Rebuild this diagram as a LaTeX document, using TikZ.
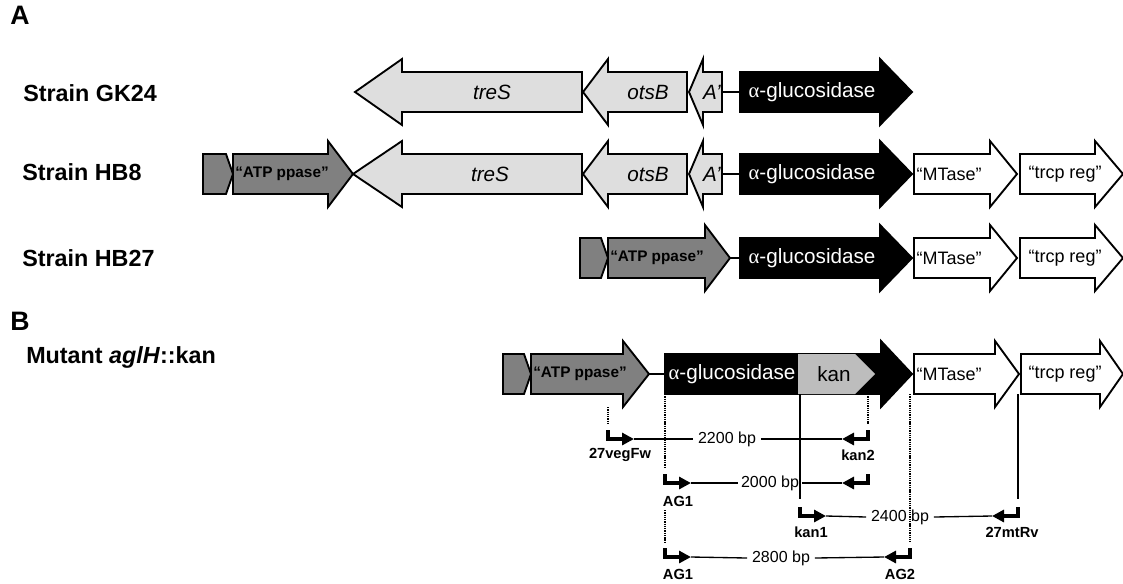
\documentclass[tikz,border=0pt]{standalone}
\usepackage{fontspec}
\setmainfont{Liberation Sans}
\newfontfamily\greekserif{Liberation Serif}
\usepackage{tikz}
\usetikzlibrary{arrows.meta}
\usepackage{xcolor}

\definecolor{lightgene}{gray}{0.87}
\definecolor{atpgray}{gray}{0.5}
\definecolor{kangray}{gray}{0.74}

% gene arrows: [style]{left}{head base}{tip}{row}
\newcommand{\fwdgene}[5][]{%
  \filldraw[#1] (#2,#5-20) -- (#3,#5-20) -- (#3,#5-33) -- (#4,#5) -- (#3,#5+33) -- (#3,#5+20) -- (#2,#5+20) -- cycle;}
% [style]{tip}{head base}{right}{row}
\newcommand{\revgene}[5][]{%
  \filldraw[#1] (#4,#5-20) -- (#3,#5-20) -- (#3,#5-33) -- (#2,#5) -- (#3,#5+33) -- (#3,#5+20) -- (#4,#5+20) -- cycle;}
% [style]{left}{tip}{row}
\newcommand{\stubgene}[4][]{%
  \filldraw[#1] (#2,#4-20) -- (#3-7,#4-20) -- (#3,#4) -- (#3-7,#4+20) -- (#2,#4+20) -- cycle;}

\tikzset{
  gene/.style={line width=1.4pt, draw=black},
  pale/.style={gene, fill=lightgene},
  atp/.style={gene, fill=atpgray},
  glu/.style={gene, fill=black},
  blank/.style={gene, fill=white},
  kanbox/.style={fill=kangray, draw=none},
  genetxt/.style={font=\fontsize{15.5}{18}\selectfont\itshape},
  glutxt/.style={text=white, inner sep=0pt, font=\fontsize{15.5}{18}\selectfont},
  atptxt/.style={inner sep=0pt, font=\fontsize{11.5}{14}\selectfont\bfseries},
  plaintxt/.style={inner sep=0pt, font=\fontsize{13.5}{16}\selectfont},
  rowlbl/.style={anchor=west, inner sep=0pt, font=\fontsize{17.5}{21}\selectfont\bfseries},
  panel/.style={anchor=west, inner sep=0pt, font=\fontsize{20}{24}\selectfont\bfseries},
  primer/.style={line width=2.6pt, -{Triangle[length=9pt,width=9pt]}},
  ruler/.style={line width=1pt},
  probe/.style={line width=1.7pt, dash pattern=on 1pt off 0.7pt},
  probesolid/.style={line width=1pt},
  bplbl/.style={inner sep=3.5pt, font=\fontsize{12}{14}\selectfont},
  primerlbl/.style={inner sep=0pt, font=\fontsize{11}{13}\selectfont\bfseries}
}

\begin{document}
\begin{tikzpicture}[x=0.75pt,y=-0.75pt]
  \useasboundingbox[fill=white] (0,0) rectangle (1123,583);

  % panel A
  \node[panel] (panelA) at (10,15) {A};
  \node[rowlbl] (gk24) at (23,93) {Strain GK24};
  \node[rowlbl] (hb8) at (22,172) {Strain HB8};
  \node[rowlbl] (hb27) at (22,258) {Strain HB27};

  % GK24
  \revgene[pale]{355}{402}{582}{92}
  \revgene[pale]{583}{608}{687}{92}
  \revgene[pale]{689}{703}{722}{92}
  \draw[gene] (722,92) -- (740,92);
  \fwdgene[glu]{740}{880}{912}{92}
  \node[genetxt] (treSa) at (492,92) {treS};
  \node[genetxt] (otsBa) at (648,92) {otsB};
  \node[genetxt,inner sep=0pt] (Aa) at (712,92) {A’};
  \node[glutxt] (glua) at (812,92) {{\greekserif α}-glucosidase};

  % HB8
  \stubgene[atp]{203}{233}{174}
  \fwdgene[atp]{233}{328}{353}{174}
  \revgene[pale]{353}{402}{582}{174}
  \revgene[pale]{583}{608}{687}{174}
  \revgene[pale]{689}{703}{722}{174}
  \draw[gene] (722,174) -- (740,174);
  \fwdgene[glu]{740}{880}{912}{174}
  \fwdgene[blank]{914}{990}{1017}{174}
  \fwdgene[blank]{1020}{1095}{1123}{174}
  \node[atptxt] (atpb) at (282,174) {“ATP ppase”};
  \node[genetxt] (treSb) at (490,174) {treS};
  \node[genetxt] (otsBb) at (648,174) {otsB};
  \node[genetxt,inner sep=0pt] (Ab) at (712,174) {A’};
  \node[glutxt] (glub) at (812,174) {{\greekserif α}-glucosidase};
  \node[plaintxt] (mtb) at (949,174) {“MTase”};
  \node[plaintxt] (trb) at (1065,174) {“trcp reg”};

  % HB27
  \stubgene[atp]{580}{608}{258}
  \fwdgene[atp]{608}{705}{730}{258}
  \draw[gene] (730,258) -- (740,258);
  \fwdgene[glu]{740}{880}{912}{258}
  \fwdgene[blank]{914}{990}{1017}{258}
  \fwdgene[blank]{1020}{1095}{1123}{258}
  \node[atptxt] (atpc) at (657,258) {“ATP ppase”};
  \node[glutxt] (gluc) at (812,258) {{\greekserif α}-glucosidase};
  \node[plaintxt] (mtc) at (949,258) {“MTase”};
  \node[plaintxt] (trc) at (1065,258) {“trcp reg”};

  % panel B
  \node[panel] (panelB) at (10,321) {B};
  \node[rowlbl] (mutant) at (26,357) {Mutant \textit{aglH}::kan};

  \stubgene[atp]{503}{531}{374}
  \fwdgene[atp]{531}{623}{649}{374}
  \draw[gene] (649,374) -- (665,374);
  \fwdgene[glu]{665}{881}{912}{374}
  \fill[kanbox] (798,354) -- (855,354) -- (875,374) -- (855,394) -- (798,394) -- cycle;
  \fwdgene[blank]{914}{995}{1019}{374}
  \fwdgene[blank]{1021}{1100}{1123}{374}
  \node[atptxt] (atpd) at (580,374) {“ATP ppase”};
  \node[glutxt] (glud) at (732,374) {{\greekserif α}-glucosidase};
  \node[plaintxt,font=\fontsize{15.5}{18}\selectfont] (kand) at (834,374) {kan};
  \node[plaintxt] (mtd) at (949,374) {“MTase”};
  \node[plaintxt] (trd) at (1065,374) {“trcp reg”};

  % primer sites
  \draw[probe] (608,407) -- (608,424);
  \draw[probe] (665,394) -- (665,468);
  \draw[probe] (665,510) -- (665,542);
  \draw[probesolid] (800,394) -- (800,499);
  \draw[probe] (868,394) -- (868,424);
  \draw[probe] (910,394) -- (910,542);
  \draw[probesolid] (1018,394) -- (1018,499);

  % 2200 bp
  \coordinate (vegFw) at (608,430);
  \coordinate (vegFwEnd) at (634,439);
  \coordinate (kan2a) at (868,430);
  \coordinate (kan2aEnd) at (842,439);
  \node[bplbl] (bp2200) at (727,439) {2200 bp};
  \draw[primer] (vegFw) |- (vegFwEnd);
  \draw[primer] (kan2a) |- (kan2aEnd);
  \draw[ruler] (vegFwEnd) -- (bp2200.west);
  \draw[ruler] (bp2200.east) -- (kan2aEnd);
  \node[primerlbl] (lblVeg) at (620,455) {27vegFw};
  \node[primerlbl] (lblKan2) at (858,455) {kan2};

  % 2000 bp
  \coordinate (agOne) at (665,474);
  \coordinate (agOneEnd) at (691,483);
  \coordinate (kan2b) at (868,474);
  \coordinate (kan2bEnd) at (842,483);
  \node[bplbl,inner sep=2pt] (bp2000) at (770,483) {2000 bp};
  \draw[primer] (agOne) |- (agOneEnd);
  \draw[primer] (kan2b) |- (kan2bEnd);
  \draw[ruler] (agOneEnd) -- (bp2000.west);
  \draw[ruler] (bp2000.east) -- (kan2bEnd);
  \node[primerlbl] (lblAG1a) at (678,501) {AG1};

  % 2400 bp
  \coordinate (kanOne) at (800,507);
  \coordinate (kanOneEnd) at (826,516);
  \coordinate (mtRv) at (1018,507);
  \coordinate (mtRvEnd) at (992,516);
  \node[bplbl] (bp2400) at (900,517) {2400 bp};
  \draw[primer] (kanOne) |- (kanOneEnd);
  \draw[primer] (mtRv) |- (mtRvEnd);
  \draw[ruler] (kanOneEnd) -- (bp2400.west);
  \draw[ruler] (bp2400.east) -- (mtRvEnd);
  \node[primerlbl] (lblKan1) at (811,532) {kan1};
  \node[primerlbl] (lblMtRv) at (1012,532) {27mtRv};

  % 2800 bp
  \coordinate (agOneB) at (665,548);
  \coordinate (agOneBEnd) at (691,557);
  \coordinate (agTwo) at (910,548);
  \coordinate (agTwoEnd) at (884,557);
  \node[bplbl] (bp2800) at (781,558) {2800 bp};
  \draw[primer] (agOneB) |- (agOneBEnd);
  \draw[primer] (agTwo) |- (agTwoEnd);
  \draw[ruler] (agOneBEnd) -- (bp2800.west);
  \draw[ruler] (bp2800.east) -- (agTwoEnd);
  \node[primerlbl] (lblAG1b) at (678,574) {AG1};
  \node[primerlbl] (lblAG2) at (900,574) {AG2};
\end{tikzpicture}
\end{document}
